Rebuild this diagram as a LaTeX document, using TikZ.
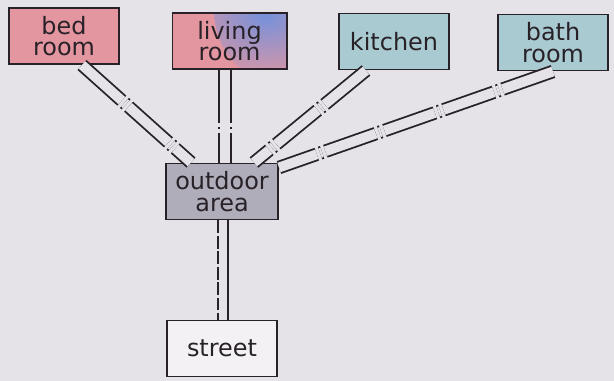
\documentclass[tikz,border=0pt]{standalone}
\usepackage{fontspec}
\setmainfont{DejaVu Sans}
\usepackage{tikz}

\definecolor{haikei}{RGB}{229,227,231}
\definecolor{sen}{RGB}{40,34,40}
\definecolor{aka}{RGB}{228,150,160}
\definecolor{aoi}{RGB}{115,145,220}
\definecolor{mizu}{RGB}{168,202,208}
\definecolor{hai}{RGB}{176,173,186}
\definecolor{shiro}{RGB}{243,241,243}

\begin{document}
\begin{tikzpicture}[x=0.025cm,y=-0.025cm,
 heya/.style={draw=sen, line width=1.4pt, minimum width=2.75cm, minimum height=1.4cm,
  align=center, inner sep=0pt, text=sen, font=\fontsize{17}{15.5}\selectfont},
 rail/.style={draw=sen, line width=1.3pt, double=haikei, double distance=7pt,
  dash pattern=on 38pt off 2.5pt on 1.5pt off 2.5pt}]
 \fill[haikei] (0,0) rectangle (614,381); % 背景

 \node[heya, fill=aka] (bed) at (64,36) {bed\\room}; % 寝室
 \node[heya, fill=aka, minimum width=2.85cm,
  path picture={\shade[inner color=aoi, outer color=aka]
   (path picture bounding box.north east) circle (1.8cm);}] (living) at (229.5,41) {living\\room}; % 居間
 \node[heya, fill=mizu] (kitchen) at (394,41.5) {kitchen}; % 台所
 \node[heya, fill=mizu] (bath) at (553,42.5) {bath\\room}; % 浴室
 \node[heya, fill=hai, minimum width=2.8cm] (outdoor) at (222,191.5) {outdoor\\area}; % 屋外
 \node[heya, fill=shiro] (street) at (222,348.5) {street}; % 道路

 \draw[rail] ([xshift=0.45cm]bed.south) -- ([xshift=-0.775cm]outdoor.north); % 寝室--屋外
 \draw[rail] ([xshift=-0.11cm]living.south) -- ([xshift=-0.11cm]living.south |- outdoor.north); % 居間--屋外
 \draw[rail] ([xshift=-0.7cm]kitchen.south) -- ([xshift=0.8cm]outdoor.north); % 台所--屋外
 \draw[rail] (bath.south) -- ([yshift=-0.125cm]outdoor.north east); % 浴室--屋外

 \draw[sen, line width=1.3pt, dash pattern=on 9pt off 2pt]
  ([xshift=-0.1cm]outdoor.south) -- ([xshift=-0.1cm]outdoor.south |- street.north); % 破線
 \draw[sen, line width=1.3pt]
  ([xshift=0.15cm]outdoor.south) -- ([xshift=0.15cm]outdoor.south |- street.north); % 実線
\end{tikzpicture}
\end{document}
